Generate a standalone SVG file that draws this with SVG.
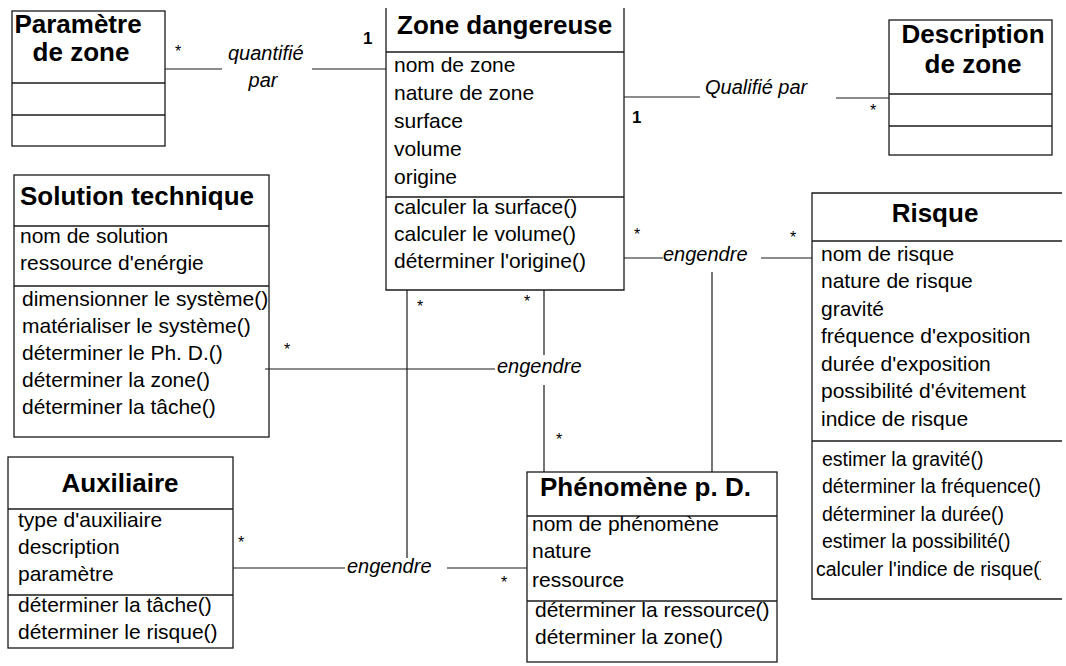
<svg xmlns="http://www.w3.org/2000/svg" width="1066" height="666" viewBox="0 0 1066 666">
  <style>
    .box{fill:none;stroke:#1a1a1a;stroke-width:1.3}
    .sep{stroke:#1a1a1a;stroke-width:1.3}
    .link{fill:none;stroke:#1a1a1a;stroke-width:1.2}
    text{font-family:"Liberation Sans",Arial,Helvetica,sans-serif;fill:#000}
    .title{font-size:26px;font-weight:bold}
    .mid{text-anchor:middle}
    .item{font-size:21px}
    .small{font-size:19.5px}
    .role{font-size:20px;font-style:italic}
    .mult{font-size:16px;text-anchor:middle}
    .one{font-size:17px;font-weight:bold}
  </style>
  <defs>
    <clipPath id="risqueClip"><rect x="800" y="190" width="241" height="420"/></clipPath>
  </defs>
  <rect width="1066" height="666" fill="#fff"/>

  <!-- associations -->
  <g id="connectors">
    <path class="link" d="M165,69 H222 M312,69 H386"/>
    <path class="link" d="M624,97 H700 M836,98 H889"/>
    <path class="link" d="M624,258 H663 M761,258 H812"/>
    <path class="link" d="M712,272 V472"/>
    <path class="link" d="M265,369 H495"/>
    <path class="link" d="M544,290 V355 M544,385 V472"/>
    <path class="link" d="M407,290 V558"/>
    <path class="link" d="M233,568 H345 M447,568 H527"/>

    <text class="role" x="228" y="60">quantifié</text>
    <text class="role mid" x="263" y="87">par</text>
    <text class="role" x="705" y="94">Qualifié par</text>
    <text class="role" x="663" y="261">engendre</text>
    <text class="role" x="497" y="373">engendre</text>
    <text class="role" x="347" y="573">engendre</text>

    <text class="mult" x="178" y="57">*</text>
    <text class="one" x="363" y="44">1</text>
    <text class="one" x="632" y="123">1</text>
    <text class="mult" x="873" y="116">*</text>
    <text class="mult" x="637" y="240">*</text>
    <text class="mult" x="793" y="243">*</text>
    <text class="mult" x="287" y="355">*</text>
    <text class="mult" x="527" y="307">*</text>
    <text class="mult" x="420" y="312">*</text>
    <text class="mult" x="559" y="445">*</text>
    <text class="mult" x="241" y="548">*</text>
    <text class="mult" x="504" y="588">*</text>
  </g>

  <g id="parametre-de-zone">
    <rect class="box" x="12" y="11" width="153" height="135"/>
    <line class="sep" x1="12" y1="83" x2="165" y2="83"/>
    <line class="sep" x1="12" y1="115" x2="165" y2="115"/>
    <text class="title mid" x="78" y="33">Paramètre</text>
    <text class="title mid" x="81" y="61">de zone</text>
  </g>

  <g id="zone-dangereuse">
    <path class="box" d="M386,8 V290 H624 V8"/>
    <line class="sep" x1="386" y1="52" x2="624" y2="52"/>
    <line class="sep" x1="386" y1="197" x2="624" y2="197"/>
    <text class="title" x="397" y="34">Zone dangereuse</text>
    <text class="item" x="394" y="72">nom de zone</text>
    <text class="item" x="394" y="100">nature de zone</text>
    <text class="item" x="394" y="128">surface</text>
    <text class="item" x="394" y="156">volume</text>
    <text class="item" x="394" y="184">origine</text>
    <text class="item" x="394" y="214">calculer la surface()</text>
    <text class="item" x="394" y="241">calculer le volume()</text>
    <text class="item" x="394" y="268">déterminer l'origine()</text>
  </g>

  <g id="description-de-zone">
    <rect class="box" x="889" y="20" width="163" height="135"/>
    <line class="sep" x1="889" y1="94" x2="1052" y2="94"/>
    <line class="sep" x1="889" y1="126" x2="1052" y2="126"/>
    <text class="title mid" x="973" y="43">Description</text>
    <text class="title mid" x="973" y="73">de zone</text>
  </g>

  <g id="solution-technique">
    <rect class="box" x="14" y="175" width="255" height="262"/>
    <line class="sep" x1="14" y1="226" x2="269" y2="226"/>
    <line class="sep" x1="14" y1="286" x2="269" y2="286"/>
    <text class="title" x="20" y="205">Solution technique</text>
    <text class="item" x="20" y="243">nom de solution</text>
    <text class="item" x="20" y="270">ressource d'enérgie</text>
    <text class="item" x="22" y="306">dimensionner le système()</text>
    <text class="item" x="22" y="333">matérialiser le système()</text>
    <text class="item" x="22" y="360">déterminer le Ph. D.()</text>
    <text class="item" x="22" y="387">déterminer la zone()</text>
    <text class="item" x="22" y="414">déterminer la tâche()</text>
  </g>

  <g id="risque">
    <path class="box" d="M1062,193 H812 V599 H1062"/>
    <line class="sep" x1="812" y1="241" x2="1062" y2="241"/>
    <line class="sep" x1="812" y1="441" x2="1062" y2="441"/>
    <text class="title mid" x="935" y="222">Risque</text>
    <g clip-path="url(#risqueClip)">
      <text class="item" x="821" y="261">nom de risque</text>
      <text class="item" x="821" y="288">nature de risque</text>
      <text class="item" x="821" y="316">gravité</text>
      <text class="item" x="821" y="343">fréquence d'exposition</text>
      <text class="item" x="821" y="371">durée d'exposition</text>
      <text class="item" x="821" y="398">possibilité d'évitement</text>
      <text class="item" x="821" y="426">indice de risque</text>
      <text class="small" x="822" y="466">estimer la gravité()</text>
      <text class="small" x="822" y="493">déterminer la fréquence()</text>
      <text class="small" x="822" y="521">déterminer la durée()</text>
      <text class="small" x="822" y="548">estimer la possibilité()</text>
      <text class="small" x="816" y="576">calculer l'indice de risque()</text>
    </g>
  </g>

  <g id="auxiliaire">
    <rect class="box" x="8" y="457" width="225" height="191"/>
    <line class="sep" x1="8" y1="509" x2="233" y2="509"/>
    <line class="sep" x1="8" y1="595" x2="233" y2="595"/>
    <text class="title mid" x="120" y="492">Auxiliaire</text>
    <text class="item" x="18" y="527">type d'auxiliaire</text>
    <text class="item" x="18" y="554">description</text>
    <text class="item" x="18" y="581">paramètre</text>
    <text class="item" x="18" y="612">déterminer la tâche()</text>
    <text class="item" x="18" y="639">déterminer le risque()</text>
  </g>

  <g id="phenomene-p-d">
    <rect class="box" x="527" y="472" width="250" height="190"/>
    <line class="sep" x1="527" y1="516" x2="777" y2="516"/>
    <line class="sep" x1="527" y1="601" x2="777" y2="601"/>
    <text class="title" x="540" y="496">Phénomène p. D.</text>
    <text class="item" x="532" y="531">nom de phénomène</text>
    <text class="item" x="532" y="558">nature</text>
    <text class="item" x="532" y="587">ressource</text>
    <text class="item" x="535" y="617">déterminer la ressource()</text>
    <text class="item" x="535" y="644">déterminer la zone()</text>
  </g>
</svg>
